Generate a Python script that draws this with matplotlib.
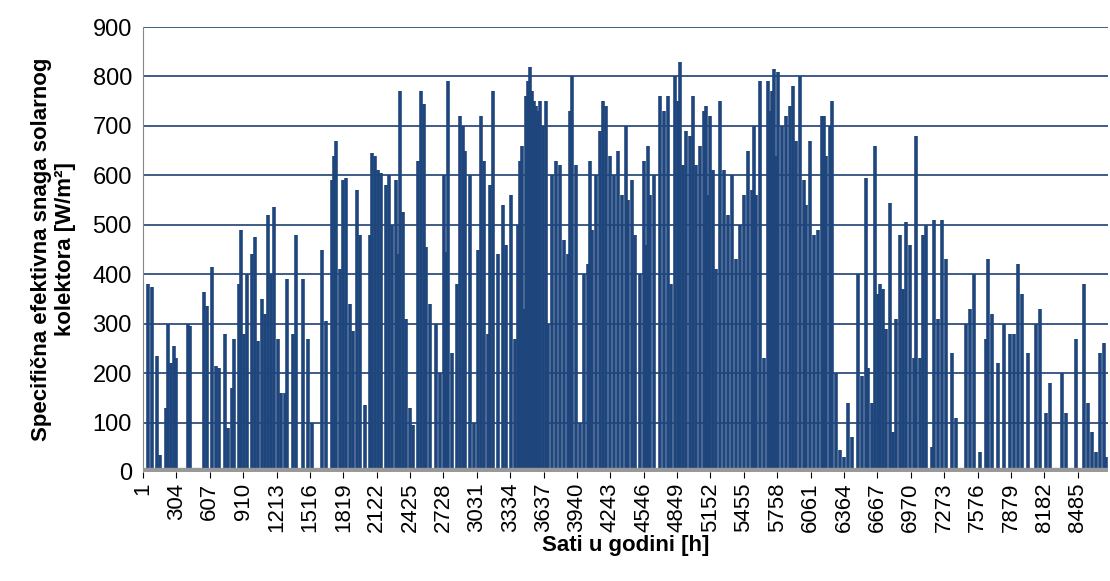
"""Hourly specific effective power of a solar collector over one year."""

import matplotlib.pyplot as plt
import numpy as np

plt.rcParams["font.family"] = ["Liberation Sans", "DejaVu Sans"]

# hour of the year and peak value [W/m2] of each visible spike
hours = [45, 82, 127, 154, 209, 227, 254, 281, 300, 409, 427, 554, 581, 627, 663, 690, 745, 772,
         808, 826, 872, 890, 917, 944, 990, 1017, 1044, 1081, 1108, 1135, 1162, 1190, 1226, 1253,
         1289, 1308, 1362, 1389, 1453, 1498, 1535, 1625, 1662, 1716, 1734, 1752, 1789, 1816, 1843,
         1880, 1907, 1943, 1970, 2016, 2061, 2079, 2107, 2134, 2161, 2206, 2234, 2261, 2297, 2315,
         2334, 2361, 2388, 2424, 2452, 2497, 2524, 2551, 2570, 2606, 2660, 2697, 2733, 2751, 2769,
         2806, 2851, 2878, 2906, 2924, 2969, 3005, 3042, 3069, 3096, 3133, 3151, 3178, 3223, 3269,
         3296, 3341, 3378, 3405, 3423, 3441, 3459, 3478, 3496, 3514, 3532, 3550, 3568, 3587, 3605,
         3632, 3659, 3677, 3714, 3750, 3786, 3823, 3859, 3877, 3895, 3932, 3968, 4004, 4041, 4059,
         4077, 4113, 4150, 4177, 4204, 4240, 4277, 4313, 4349, 4386, 4404, 4440, 4467, 4513, 4549,
         4567, 4585, 4603, 4640, 4694, 4731, 4767, 4794, 4831, 4858, 4876, 4903, 4930, 4967, 4994,
         5021, 5058, 5094, 5112, 5130, 5148, 5176, 5203, 5239, 5276, 5312, 5348, 5384, 5421, 5457,
         5493, 5530, 5548, 5566, 5602, 5639, 5675, 5693, 5711, 5729, 5748, 5766, 5802, 5838, 5875,
         5902, 5929, 5966, 6002, 6020, 6056, 6093, 6129, 6165, 6183, 6202, 6238, 6256, 6292, 6329,
         6365, 6401, 6438, 6492, 6529, 6565, 6583, 6619, 6647, 6674, 6692, 6719, 6746, 6783, 6810,
         6837, 6874, 6901, 6928, 6964, 7001, 7019, 7055, 7082, 7110, 7164, 7182, 7218, 7255, 7291,
         7346, 7382, 7473, 7509, 7545, 7600, 7654, 7673, 7709, 7763, 7818, 7872, 7909, 7945, 7981,
         8036, 8108, 8145, 8199, 8236, 8345, 8381, 8472, 8545, 8581, 8617, 8653, 8690, 8726, 8744]
power = [380, 375, 235, 35, 130, 300, 220, 255, 230, 300, 295, 365, 335, 415, 215, 210, 280, 90,
         170, 270, 380, 490, 280, 400, 440, 475, 265, 350, 320, 520, 400, 535, 270, 160,
         160, 390, 280, 480, 390, 270, 100, 450, 305, 590, 640, 670, 410, 590, 595,
         340, 285, 570, 480, 135, 480, 645, 640, 610, 605, 580, 600, 500, 590, 440,
         770, 525, 310, 130, 95, 630, 770, 745, 455, 340, 300, 200, 600, 445, 790,
         240, 380, 720, 700, 650, 600, 100, 450, 720, 630, 280, 580, 770, 440, 540,
         460, 560, 270, 500, 630, 660, 330, 760, 790, 820, 770, 750, 740, 730, 750,
         700, 750, 300, 600, 630, 620, 470, 440, 730, 800, 620, 100, 400, 420, 630,
         490, 600, 690, 750, 740, 640, 600, 650, 560, 700, 550, 590, 480, 400, 630,
         460, 660, 560, 600, 760, 730, 760, 380, 800, 750, 830, 620, 690, 680, 760,
         620, 660, 730, 740, 560, 720, 610, 410, 750, 610, 520, 600, 430, 500, 560,
         650, 570, 700, 560, 790, 230, 790, 730, 770, 815, 640, 810, 700, 720, 740,
         780, 670, 800, 590, 540, 670, 480, 490, 720, 720, 640, 700, 750, 200, 45,
         30, 140, 70, 400, 195, 595, 210, 140, 660, 360, 380, 370, 290, 545, 80,
         310, 480, 370, 505, 460, 230, 680, 230, 480, 500, 50, 510, 310, 510, 430,
         240, 110, 300, 330, 400, 40, 270, 430, 320, 220, 300, 280, 280, 420, 360,
         240, 300, 330, 120, 180, 200, 120, 270, 380, 140, 80, 40, 240, 260, 30]

tick_hours = list(range(1, 8761, 303))

bar_color = "#1F467C"
grid_color = "#1F3F73"

fig = plt.figure(figsize=(11.1, 5.81), dpi=100)
ax = fig.add_axes([143 / 1110, 109 / 581, 965 / 1110, 445 / 581])

ax.vlines(hours, 0, power, color=bar_color, linewidth=2.6, zorder=2)
ax.set_xlim(1, 8760)
ax.set_ylim(0, 900)
ax.set_yticks(np.arange(0, 901, 100))
ax.set_xticks(tick_hours)
ax.set_xticklabels([str(t) for t in tick_hours], rotation=90, fontsize=16)
ax.tick_params(axis="y", labelsize=17, length=0, pad=8)
ax.tick_params(axis="x", length=4)
ax.grid(axis="y", color=grid_color, linewidth=1.2, zorder=1)
ax.axhline(0, color="#999999", linewidth=6, zorder=3)
for side in ["top", "right"]:
    ax.spines[side].set_visible(False)
ax.spines["left"].set_color("#888888")
ax.spines["bottom"].set_visible(False)

ax.set_xlabel("Sati u godini [h]", fontsize=16, fontweight="bold", labelpad=2)
ax.set_ylabel("Specifična efektivna snaga solarnog\nkolektora [W/m²]", fontsize=16,
              fontweight="bold", labelpad=12)

fig.savefig("out.png", dpi=100)
